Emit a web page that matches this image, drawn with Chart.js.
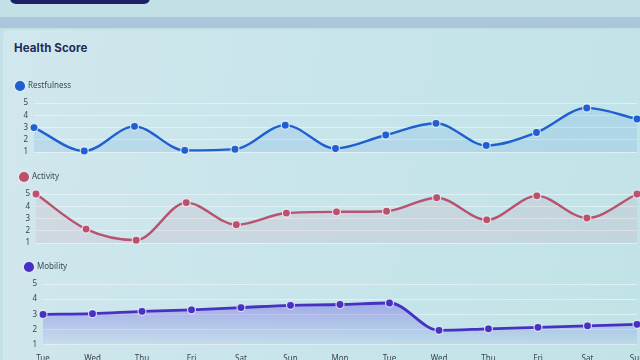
<!DOCTYPE html>
<html>
<head>
<meta charset="utf-8">
<script src="https://cdn.jsdelivr.net/npm/chart.js@4.4.1/dist/chart.umd.min.js"></script>
<style>
  html, body { margin: 0; padding: 0; }
  body {
    width: 640px; height: 360px; overflow: hidden; position: relative;
    background: #c4e0e7; font-family: "Noto Sans", sans-serif;
  }
  .topbtn { position: absolute; left: 10px; top: -12px; width: 140px; height: 16px;
    background: #1b2162; border-radius: 6px; }
  .band { position: absolute; left: 0; top: 17px; width: 640px; height: 11px; background: #a9c6da; }
  .card { position: absolute; left: 3px; top: 30px; width: 660px; height: 340px;
    background: linear-gradient(100deg, #d0e7ed 0%, #c8e5eb 45%, #c0e3e7 100%); border-radius: 6px; }
  h1 { position: absolute; left: 14px; top: 41px; margin: 0; font-size: 11.5px; font-weight: 700;
    color: #1e2a5a; font-family: Inter, "Noto Sans", sans-serif; letter-spacing: 0.1px; }
  .box { position: absolute; left: 0; width: 680px; }
</style>
</head>
<body>
<div class="topbtn"></div>
<div class="band"></div>
<div class="card"></div>
<h1>Health Score</h1>
<div class="box" style="top:76px;height:87px"><canvas id="c1"></canvas></div>
<div class="box" style="top:167px;height:87px"><canvas id="c2"></canvas></div>
<div class="box" style="top:257px;height:117px"><canvas id="c3"></canvas></div>
<script>
const days = ["Tue", "Wed", "Thu", "Fri", "Sat", "Sun", "Mon", "Tue", "Wed", "Thu", "Fri", "Sat", "Sun"];
const dates = ["05/26", "05/27", "05/28", "05/29", "05/30", "05/31", "06/01", "06/02", "06/03", "06/04", "06/05", "06/06", "06/07"];
const restfulness = [3, 1.1, 3.1, 1.15, 1.25, 3.2, 1.3, 2.4, 3.35, 1.55, 2.6, 4.6, 3.7];
const activity = [5, 2.15, 1.25, 4.3, 2.5, 3.45, 3.55, 3.6, 4.7, 2.9, 4.85, 3.05, 5];
const mobility = [3, 3.05, 3.2, 3.3, 3.45, 3.6, 3.65, 3.75, 1.95, 2.05, 2.15, 2.25, 2.35];
const yTicks = [1, 2, 3, 4, 5];

const labels = days.map((d, i) => [d, dates[i]]);

// a little extra room under the legend
const legendGap = {
  id: "legendGap",
  beforeInit(chart) {
    const fit = chart.legend.fit;
    chart.legend.fit = function () {
      fit.bind(chart.legend)();
      this.height += 3;
    };
  },
};

function makeChart(id, name, data, color, fill, opts) {
  const ctx = document.getElementById(id);
  return new Chart(ctx, {
    type: "line",
    plugins: [legendGap],
    data: {
      labels: labels,
      datasets: [{
        label: name,
        data: data,
        borderColor: color,
        backgroundColor: fill,
        pointBackgroundColor: color,
        pointBorderColor: "rgba(255,255,255,0.75)",
        pointBorderWidth: 1.2,
        pointRadius: 4,
        borderWidth: opts.lw,
        fill: "start",
        cubicInterpolationMode: "monotone",
        clip: false,
      }],
    },
    options: {
      responsive: true,
      maintainAspectRatio: false,
      animation: false,
      layout: { padding: { left: opts.left, right: 43, top: 0, bottom: opts.bottom } },
      plugins: {
        legend: {
          display: true,
          align: "start",
          labels: {
            usePointStyle: true,
            pointStyle: "circle",
            boxWidth: 8,
            boxHeight: 8,
            padding: 6,
            color: "#3d4a56",
            font: { size: 8, family: "'Noto Sans', sans-serif" },
          },
        },
        tooltip: { enabled: false },
      },
      scales: {
        x: {
          display: opts.showX,
          grid: { display: false },
          border: { display: false },
          ticks: {
            color: "#3a4550",
            font: { size: 8, family: "'Noto Sans', sans-serif" },
            padding: 1,
            maxRotation: 0,
            autoSkip: false,
          },
        },
        y: {
          min: 1,
          max: 5,
          afterFit: (axis) => { axis.width = opts.axisW; },
          afterBuildTicks: (axis) => { axis.ticks = yTicks.map((v) => ({ value: v })); },
          grid: { color: "rgba(255,255,255,0.45)", drawTicks: false, lineWidth: 1 },
          border: { display: false },
          ticks: {
            color: "#3a4550",
            font: { size: 8, family: "'Noto Sans', sans-serif" },
            padding: 6,
          },
        },
      },
    },
  });
}

makeChart("c1", "Restfulness", restfulness, "#1f5fcf", "rgba(40,120,225,0.12)",
  { left: 10, axisW: 24, bottom: 2, showX: false, lw: 2.4 });
makeChart("c2", "Activity", activity, "#b9526f", "rgba(205,95,125,0.1)",
  { left: 14, axisW: 22, bottom: 2, showX: false, lw: 2.4 });

// mobility gets a vertical gradient fill (canvas coordinates)
const c3 = document.getElementById("c3");
const g = c3.getContext("2d").createLinearGradient(0, 40, 0, 86);
g.addColorStop(0, "rgba(85,60,225,0.38)");
g.addColorStop(1, "rgba(85,60,225,0.06)");
makeChart("c3", "Mobility", mobility, "#4631c2", g,
  { left: 19, axisW: 24, bottom: 0, showX: true, lw: 2.8 });
</script>
</body>
</html>
